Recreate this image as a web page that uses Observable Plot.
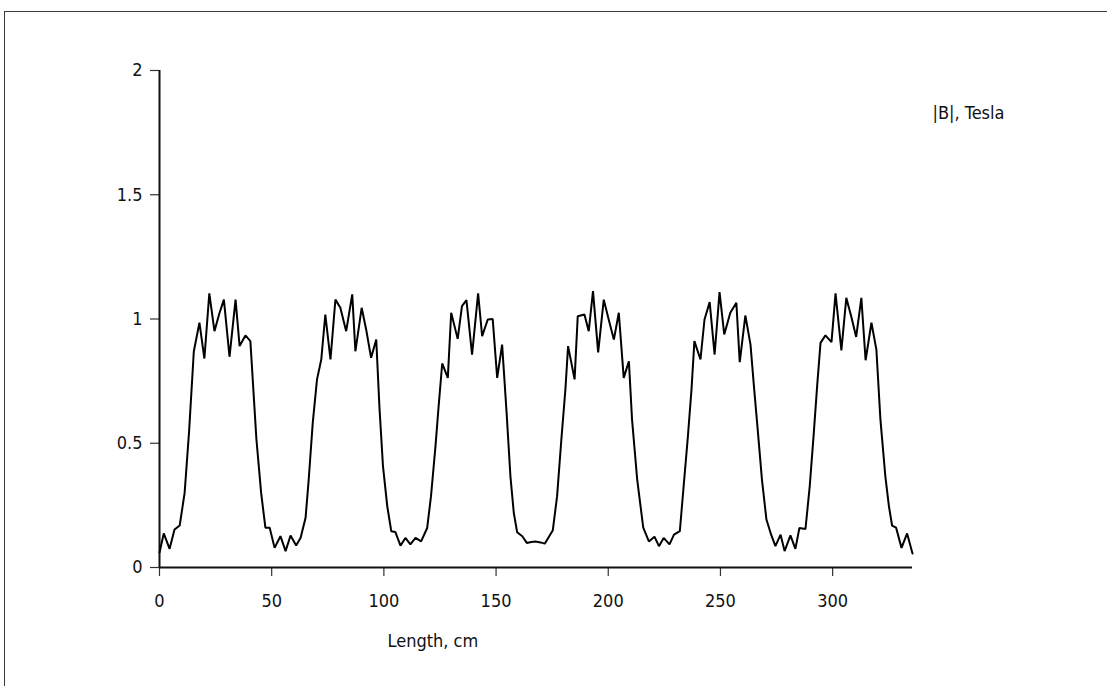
<!DOCTYPE html>
<html>
<head>
<meta charset="utf-8">
<script src="https://cdn.jsdelivr.net/npm/d3@7"></script>
<script src="https://cdn.jsdelivr.net/npm/@observablehq/plot@0.6"></script>
<style>
  html, body { margin: 0; padding: 0; background: #fff; }
  #wrap { position: relative; width: 1107px; height: 686px; overflow: hidden; }
  #frame { position: absolute; left: 4px; top: 11px; width: 1110px; height: 690px;
           border-top: 1px solid #3a3a3a; border-left: 1px solid #3a3a3a; }
  #chart { position: absolute; left: 0; top: 0; }
</style>
</head>
<body>
<div id="wrap"><div id="frame"></div><div id="chart"></div></div>
<script>
// Length along the magnet, cm
const lengthCm = [
  0, 1.9, 4.5, 6.7, 9.0, 11.2, 13.2, 15.3, 17.8, 20.0, 22.2, 24.5, 26.6, 28.7, 31.2, 33.9, 35.7, 38.3, 40.5,
  43.2, 45.3, 47.2, 49.1, 51.3, 53.9, 56.2, 58.4, 60.9, 62.9, 65.1, 66.5, 68.3, 70.2, 72.1, 73.9, 76.2, 78.4,
  80.6, 83.2, 85.9, 87.3, 90.1, 92.1, 94.3, 96.6, 98.0, 99.6, 101.5, 103.3, 105.1, 107.4, 109.6, 111.8, 114.1,
  116.6, 119.3, 121.0, 123.0, 124.4, 126.0, 128.5, 130.0, 132.9, 134.8, 136.8, 139.3, 142.0, 143.8, 146.3,
  148.5, 150.5, 152.7, 154.7, 156.4, 157.9, 159.4, 161.7, 163.7, 165.7, 167.6, 169.8, 171.7, 175.3, 177.2,
  179.1, 180.9, 182.1, 185.0, 186.4, 189.4, 191.3, 193.2, 195.5, 198.0, 200.2, 202.5, 204.7, 206.9, 209.2,
  210.6, 212.9, 215.6, 218.1, 220.6, 222.6, 224.7, 227.3, 229.3, 231.9, 233.6, 235.5, 237.1, 238.4, 241.1,
  242.9, 245.2, 247.4, 249.6, 251.7, 254.4, 257.1, 258.6, 261.1, 263.4, 264.8, 266.6, 268.5, 270.5, 272.6,
  274.5, 276.8, 278.6, 281.2, 283.4, 285.2, 287.9, 289.8, 291.6, 293.1, 294.6, 296.8, 299.5, 301.3, 303.9,
  306.1, 308.3, 310.5, 312.8, 314.7, 317.3, 319.5, 321.3, 323.5, 325.1, 326.5, 328.3, 330.7, 333.2, 335.6
];
// |B|, Tesla
const bTesla = [
  0.06, 0.137, 0.075, 0.153, 0.169, 0.30, 0.55, 0.870, 0.985, 0.841, 1.103, 0.951, 1.02, 1.078, 0.848, 1.078, 0.891, 0.934, 0.911,
  0.515, 0.30, 0.160, 0.160, 0.079, 0.126, 0.066, 0.129, 0.089, 0.12, 0.200, 0.354, 0.582, 0.757, 0.837, 1.018, 0.837, 1.078,
  1.045, 0.951, 1.099, 0.870, 1.045, 0.958, 0.844, 0.917, 0.649, 0.408, 0.247, 0.146, 0.143, 0.088, 0.119, 0.093, 0.119,
  0.105, 0.159, 0.287, 0.488, 0.649, 0.821, 0.763, 1.025, 0.920, 1.052, 1.076, 0.857, 1.103, 0.931, 0.998,
  1.0, 0.763, 0.897, 0.622, 0.367, 0.22, 0.142, 0.126, 0.099, 0.103, 0.105, 0.101, 0.096, 0.150, 0.287,
  0.515, 0.716, 0.891, 0.757, 1.011, 1.018, 0.951, 1.112, 0.866, 1.078, 0.998, 0.917, 1.025, 0.763, 0.830,
  0.596, 0.354, 0.160, 0.105, 0.124, 0.086, 0.119, 0.093, 0.132, 0.146, 0.327, 0.528, 0.716, 0.911, 0.837,
  0.998, 1.068, 0.857, 1.108, 0.938, 1.025, 1.065, 0.826, 1.014, 0.897, 0.743, 0.556, 0.354, 0.193, 0.132,
  0.086, 0.132, 0.066, 0.129, 0.075, 0.159, 0.155, 0.327, 0.541, 0.730, 0.904, 0.934, 0.907, 1.103, 0.874,
  1.085, 1.01, 0.928, 1.085, 0.834, 0.985, 0.877, 0.596, 0.367, 0.246, 0.169, 0.160, 0.079, 0.137, 0.056
];
const xTicks = [0, 50, 100, 150, 200, 250, 300];
const yTicks = [0, 0.5, 1, 1.5, 2];
const yTickLabels = ["0", "0.5", "1", "1.5", "2"];
const xTitle = "Length, cm";
const seriesLabel = "|B|, Tesla";

const data = lengthCm.map((x, i) => ({x, y: bTesla[i]}));
const font = "'DejaVu Sans Condensed', 'Liberation Sans', sans-serif";

const chart = Plot.plot({
  width: 1107,
  height: 686,
  marginLeft: 159,
  marginRight: 195,
  marginTop: 70,
  marginBottom: 119,
  style: {fontFamily: font, fontSize: "18px", color: "#111", background: "transparent"},
  x: {domain: [0, 335.6]},
  y: {domain: [0, 2]},
  marks: [
    Plot.axisX({ticks: xTicks, tickSize: 9, tickPadding: 18, tickFormat: d => String(d), label: null,
                stroke: "#333", strokeWidth: 1.2, fill: "#111"}),
    Plot.axisY({ticks: yTicks, tickSize: 9, tickPadding: 8, tickFormat: (d, i) => yTickLabels[i], label: null,
                stroke: "#333", strokeWidth: 1.2, fill: "#111"}),
    Plot.ruleY([0], {stroke: "#111", strokeWidth: 2}),
    Plot.ruleX([0], {stroke: "#111", strokeWidth: 2}),
    Plot.line(data, {x: "x", y: "y", stroke: "#000", strokeWidth: 2, strokeLinejoin: "miter"}),
    Plot.text([xTitle], {frameAnchor: "bottom-left", textAnchor: "start", lineAnchor: "middle",
                         dx: 228, dy: 74, fill: "#111", fontSize: 18}),
    Plot.text([seriesLabel], {frameAnchor: "top-right", textAnchor: "start", lineAnchor: "middle",
                              dx: 20, dy: 43, fill: "#111", fontSize: 18})
  ]
});
document.getElementById("chart").appendChild(chart);
</script>
</body>
</html>
